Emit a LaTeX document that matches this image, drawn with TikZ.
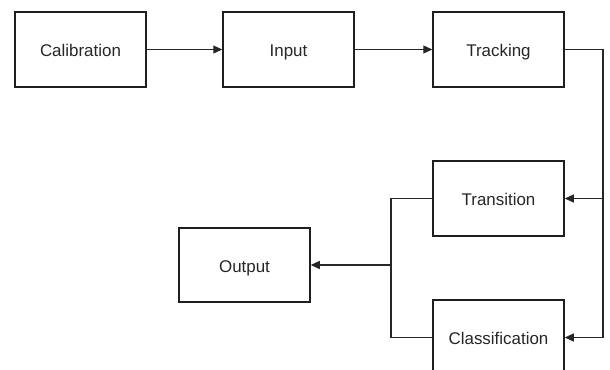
\documentclass[tikz,border=0pt]{standalone}
\usepackage{fontspec}
\setmainfont{Liberation Sans}
\usetikzlibrary{arrows.meta}
\begin{document}
\begin{tikzpicture}[x=1bp, y=-1bp,
  block/.style={draw=black!88, line width=1.5bp, minimum width=131bp,
    minimum height=75bp, inner sep=0pt, text=black!85,
    text height=16bp, text depth=2bp,
    font=\fontsize{17}{20}\selectfont},
  link/.style={draw=black!85, line width=1.2bp},
  arr/.style={link, -{Triangle[length=9bp, width=8bp]}}]
  \clip (0,0) rectangle (610,369);
  \useasboundingbox (0,0) rectangle (610,369);

  % pipeline boxes
  \node[block] (cal) at (80.5,49.5)   {Calibration};
  \node[block] (inp) at (288.5,49.5)  {Input};
  \node[block] (trk) at (498.5,49.5)  {Tracking};
  \node[block] (trn) at (498.5,198.5) {Transition};
  \node[block, minimum height=74bp] (out) at (244.5,265) {Output};
  \node[block] (cls) at (498.5,337.5) {Classification};

  % routing columns
  \coordinate (rx) at (603,0);
  \coordinate (mx) at (391,0);

  % top row
  \draw[arr] (cal) -- (inp);
  \draw[arr] (inp) -- (trk);

  % tracking feeds both analysis stages
  \draw[link] (trk.east) -- (rx |- trk.east) -- (rx |- cls.east);
  \draw[arr] (rx |- trn.east) -- (trn.east);
  \draw[arr] (rx |- cls.east) -- (cls.east);

  % both stages merge into the output
  \draw[link] (trn.west) -- (mx |- trn.west) -- (mx |- cls.west) -- (cls.west);
  \draw[arr] (mx |- out.east) -- (out.east);
\end{tikzpicture}
\end{document}
